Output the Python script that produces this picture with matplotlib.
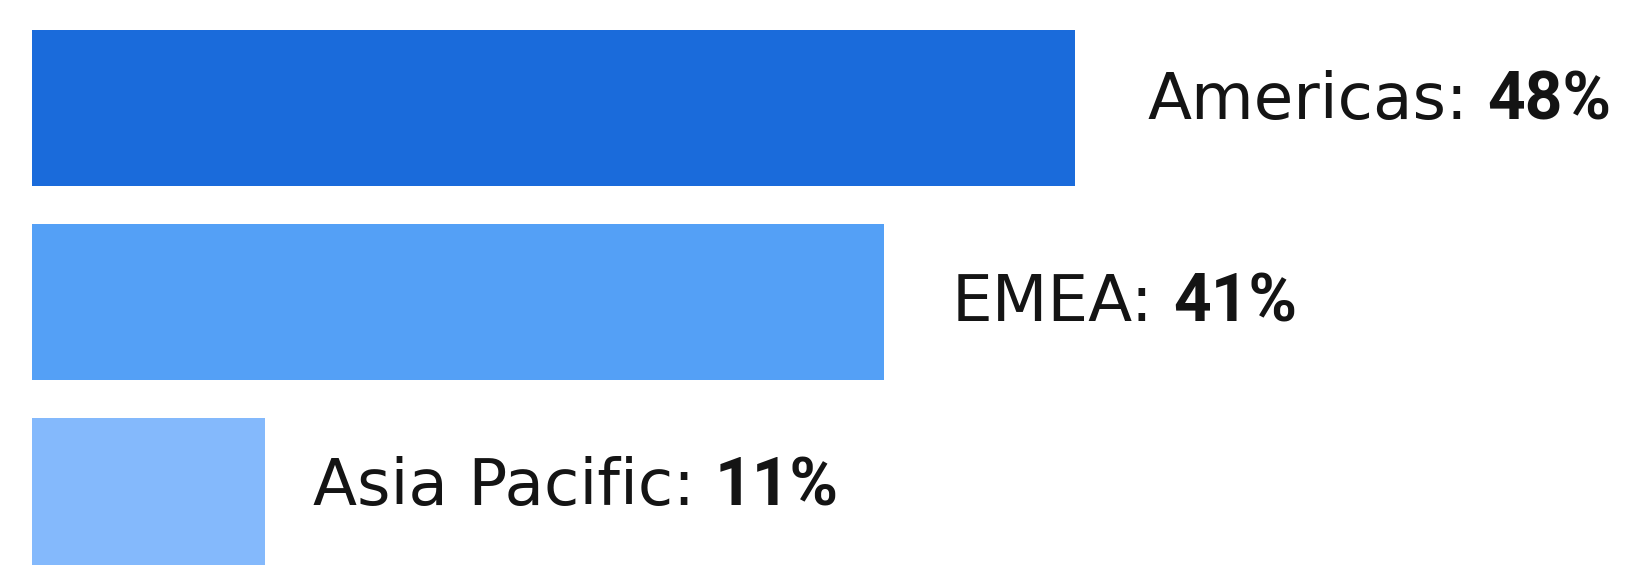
import matplotlib as mpl
mpl.use('Agg')
import matplotlib.pyplot as plt
from matplotlib.transforms import IdentityTransform

plt.rcParams['font.family'] = ['DejaVu Sans']

# data
regions = ['Americas', 'EMEA', 'Asia Pacific']
shares = [48.0, 39.2, 10.7]           # bar lengths
share_labels = ['48%', '41%', '11%']  # printed values
colors = ['#1a6bdb', '#54a0f6', '#84b9fc']

W, H, DPI = 1626, 565, 100
fig = plt.figure(figsize=(W / DPI, H / DPI), dpi=DPI)
ax = fig.add_axes([0, 0, 1, 1])

px_per_unit = 1043 / 48.0
left_px = 32
ax.set_xlim(-left_px / px_per_unit, (W - left_px) / px_per_unit)
row_px = 194
ax.set_ylim((H - 108) / row_px, -108 / row_px)

ypos = list(range(len(regions)))
ax.barh(ypos, shares, height=156 / row_px, color=colors, left=0)
ax.axis('off')

# label placement tweaks in pixels (gap after bar, baseline below bar centre)
gaps = [72, 68, 48]
base_off = [11, 19, 9]
txt_color = '#141414'

fig.canvas.draw()
renderer = fig.canvas.get_renderer()
for i, (name, lab) in enumerate(zip(regions, share_labels)):
    xd, yd = ax.transData.transform((shares[i], ypos[i]))
    x = xd + gaps[i]
    y = yd - base_off[i]
    t = fig.text(x, y, name + ':', transform=IdentityTransform(),
                 fontsize=46.4, color=txt_color, va='baseline', ha='left')
    bb = t.get_window_extent(renderer)
    fig.text(bb.x1 + 20, y, lab, transform=IdentityTransform(),
             fontsize=47.4, family=['Roboto', 'DejaVu Sans'],
             fontweight='bold', color=txt_color, va='baseline', ha='left')

fig.savefig('out.png', dpi=DPI)
